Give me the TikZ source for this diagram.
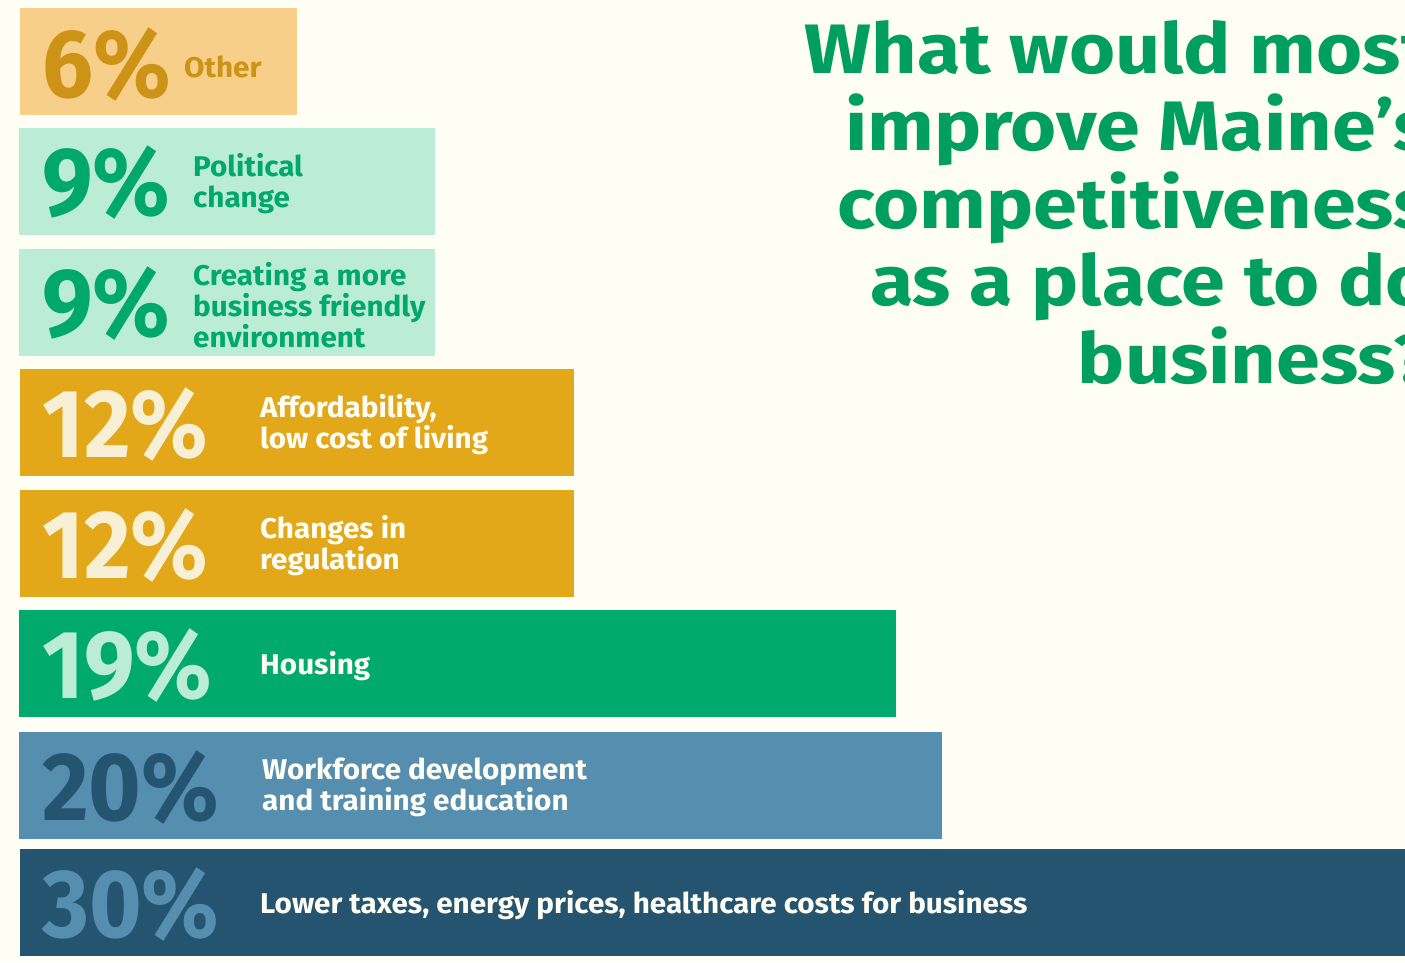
\documentclass[tikz,border=0pt]{standalone}
\usepackage{fontspec}
\setmainfont{Fira Sans}
\newfontfamily\pctfont[FakeStretch=0.93]{Fira Sans}
\newfontfamily\lblfont[FakeStretch=1.04]{Fira Sans}
\newfontfamily\titlefont[FakeStretch=1.13]{Fira Sans}
\usetikzlibrary{positioning}

\definecolor{bgcream}{HTML}{FFFEF4}
\definecolor{sandfill}{HTML}{F8CF89}
\definecolor{sandtext}{HTML}{CC9316}
\definecolor{mintfill}{HTML}{BBECD6}
\definecolor{greentext}{HTML}{00A86D}
\definecolor{goldfill}{HTML}{E2A81A}
\definecolor{creamtext}{HTML}{F8F0D4}
\definecolor{greenfill}{HTML}{00AA6F}
\definecolor{steelfill}{HTML}{568EB0}
\definecolor{navyfill}{HTML}{24546F}
\definecolor{titlegreen}{HTML}{009E5F}

\begin{document}
\begin{tikzpicture}[x=1pt, y=-1pt,
    bar/.style={anchor=north west, inner sep=0pt, minimum height=107pt},
    pct/.style={anchor=base west, inner sep=0pt,
      font=\pctfont\bfseries\fontsize{97}{97}\selectfont},
    lbl/.style={anchor=west, inner sep=0pt, align=left, yshift=-2pt,
      font=\lblfont\bfseries\fontsize{28.5}{31}\selectfont}
    ]
    \clip (0,0) rectangle (1405,962);
    \fill[bgcream] (0,0) rectangle (1405,962);

    % bars
    \node[bar, fill=sandfill, minimum width=277pt] (other) at (20,8) {};
    \node[bar, fill=mintfill, minimum width=416pt] (political) at (19,128) {};
    \node[bar, fill=mintfill, minimum width=416pt] (friendly) at (19,249) {};
    \node[bar, fill=goldfill, minimum width=554pt] (afford) at (20,369) {};
    \node[bar, fill=goldfill, minimum width=554pt] (regul) at (20,490) {};
    \node[bar, fill=greenfill, minimum width=877pt] (housing) at (19,610) {};
    \node[bar, fill=steelfill, minimum width=923pt] (workforce) at (19,732) {};
    \node[bar, fill=navyfill, minimum width=1386pt] (taxes) at (20,849) {};

    % percentages
    \node[pct, sandtext] (p6) at (other.north west) [xshift=22pt, yshift=-89pt] {6\%};
    \node[pct, greentext] (p9a) at (political.north west) [xshift=23pt, yshift=-87pt] {9\%};
    \node[pct, greentext] (p9b) at (friendly.north west) [xshift=23pt, yshift=-87pt] {9\%};
    \node[pct, creamtext] (p12a) at (afford.north west) [xshift=22pt, yshift=-88pt] {12\%};
    \node[pct, creamtext] (p12b) at (regul.north west) [xshift=22pt, yshift=-88pt] {12\%};
    \node[pct, mintfill] (p19) at (housing.north west) [xshift=23pt, yshift=-88pt] {19\%};
    \node[pct, navyfill] (p20) at (workforce.north west) [xshift=23pt, yshift=-88pt] {20\%};
    \node[pct, steelfill] (p30) at (taxes.north west) [xshift=22pt, yshift=-88pt] {30\%};

    % labels
    \node[lbl, sandtext, yshift=-3pt] (lother) at (other.west) [xshift=164pt] {Other};
    \node[lbl, greentext] (lpolitical) at (political.west) [xshift=174pt] {Political\\change};
    \node[lbl, greentext] (lfriendly) at (friendly.west) [xshift=174pt] {Creating a more\\business friendly\\environment};
    \node[lbl, bgcream] (lafford) at (afford.west) [xshift=240pt] {Affordability,\\low cost of living};
    \node[lbl, bgcream] (lregul) at (regul.west) [xshift=240pt] {Changes in\\regulation};
    \node[lbl, bgcream] (lhousing) at (housing.west) [xshift=241pt] {Housing};
    \node[lbl, bgcream] (lworkforce) at (workforce.west) [xshift=243pt] {Workforce development\\and training education};
    \node[lbl, bgcream] (ltaxes) at (taxes.west) [xshift=240pt] {Lower taxes, energy prices, healthcare costs for business};

    % title
    \node[anchor=north east, inner sep=0pt, align=right, titlegreen,
      font=\titlefont\bfseries\fontsize{70}{77.5}\selectfont] (title) at (1432,20)
      {What would most\\improve Maine’s\\competitiveness\\as a place to do\\business?};
\end{tikzpicture}
\end{document}
